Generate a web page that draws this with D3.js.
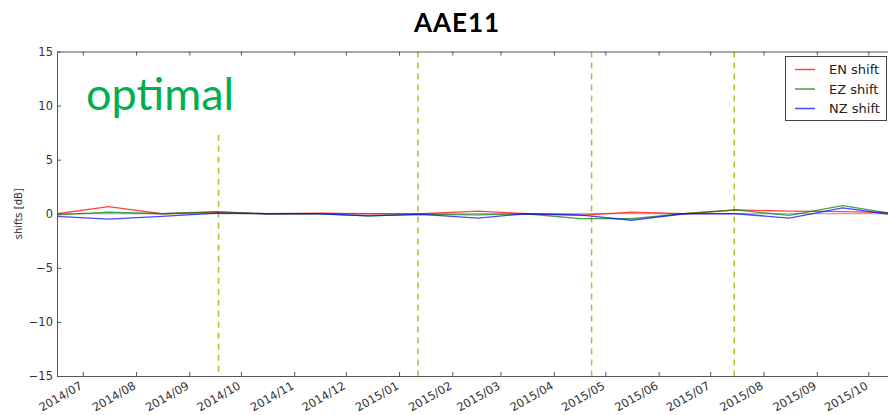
<!DOCTYPE html>
<html><head><meta charset="utf-8">
<script src="https://cdn.jsdelivr.net/npm/d3@7"></script>
<style>body{margin:0;background:#fff}svg{display:block}</style>
</head><body>
<script>
const title = "AAE11";
const annotation = "optimal";
const dates = ["2014-06-16","2014-07-16","2014-08-16","2014-09-17","2014-10-16","2014-11-16","2014-12-14","2015-01-14","2015-02-16","2015-03-16","2015-04-16","2015-05-16","2015-06-16","2015-07-16","2015-08-16","2015-09-16","2015-10-16"];
const enShift = [0.0, 0.65, 0.0, 0.15, 0.0, 0.05, 0.0, 0.0, 0.25, 0.0, -0.15, 0.15, 0.0, 0.35, 0.25, 0.2, 0.1];
const ezShift = [-0.1, 0.15, 0.0, 0.2, 0.0, 0.0, -0.2, -0.05, -0.1, 0.0, -0.45, -0.45, 0.0, 0.35, -0.15, 0.75, 0.0];
const nzShift = [-0.25, -0.5, -0.25, 0.05, 0.0, 0.0, -0.2, -0.05, -0.4, 0.0, -0.1, -0.6, 0.0, 0.0, -0.4, 0.55, -0.1];
const seriesNames = ["EN shift", "EZ shift", "NZ shift"];
const eventDates = ["2014-09-18", "2015-01-12", "2015-04-23", "2015-07-15"];
const eventTops = [7.3, 15, 15, 15];
const yTicks = [15, 10, 5, 0, -5, -10, -15];
const xTickDates = ["2014-07-01","2014-08-01","2014-09-01","2014-10-01","2014-11-01","2014-12-01","2015-01-01","2015-02-01","2015-03-01","2015-04-01","2015-05-01","2015-06-01","2015-07-01","2015-08-01","2015-09-01","2015-10-01"];
const yLabel = "shifts [dB]";

const W = 888, H = 415;
const parse = d3.utcParse("%Y-%m-%d");
const fmt = d3.utcFormat("%Y/%m");
const svg = d3.select("body").append("svg").attr("width", W).attr("height", H);

const x = d3.scaleUtc().domain([parse("2014-06-16"), parse("2015-10-20")]).range([57, 901]);
const y = d3.scaleLinear().domain([-15, 15]).range([376, 51.5]);

const colors = ["rgba(255,0,0,0.72)", "rgba(0,120,0,0.72)", "rgba(0,0,255,0.72)"];
const allSeries = [enShift, ezShift, nzShift];

svg.append("clipPath").attr("id", "clip").append("rect")
  .attr("x", x.range()[0]).attr("y", y.range()[1]).attr("width", x.range()[1] - x.range()[0]).attr("height", y.range()[0] - y.range()[1]);
const plot = svg.append("g").attr("clip-path", "url(#clip)");

plot.append("line").attr("x1", x.range()[0]).attr("x2", x.range()[1]).attr("y1", y(0)).attr("y2", y(0))
  .attr("stroke", "#999").attr("stroke-width", 1);

eventDates.forEach((d, i) => {
  plot.append("line").attr("x1", x(parse(d))).attr("x2", x(parse(d)))
    .attr("y1", y(eventTops[i])).attr("y2", y(-15))
    .attr("stroke", "#b3bf2e").attr("stroke-width", 1.5).attr("stroke-dasharray", "6,5");
});

const line = d3.line().x((d, i) => x(parse(dates[i]))).y(d => y(d));
allSeries.forEach((s, k) => {
  plot.append("path").datum(s).attr("d", line).attr("fill", "none")
    .attr("stroke", colors[k]).attr("stroke-width", 1.3);
});

const axisColor = "#555";
const gB = svg.append("g").attr("transform", `translate(0,${y(-15)})`)
  .call(d3.axisBottom(x).tickValues(xTickDates.map(parse)).tickFormat(fmt).tickSizeInner(-4).tickSizeOuter(0));
gB.select(".domain").attr("stroke", axisColor);
gB.selectAll(".tick line").attr("stroke", axisColor);
gB.selectAll(".tick text").attr("font-family", "DejaVu Sans").attr("font-size", 11.5).attr("fill", "#333")
  .attr("text-anchor", "end").attr("y", 0).attr("dy", "0.7em").attr("transform", "translate(-4,5) rotate(-30)");

const gT = svg.append("g").attr("transform", `translate(0,${y(15)})`)
  .call(d3.axisTop(x).tickValues(xTickDates.map(parse)).tickFormat("").tickSizeInner(-4).tickSizeOuter(0));
gT.select(".domain").attr("stroke", axisColor);
gT.selectAll(".tick line").attr("stroke", axisColor);

const gL = svg.append("g").attr("transform", `translate(${x.range()[0]},0)`)
  .call(d3.axisLeft(y).tickValues(yTicks).tickFormat(d => d < 0 ? "\u2212" + Math.abs(d) : d).tickSizeInner(-4).tickSizeOuter(0).tickPadding(4));
gL.select(".domain").attr("stroke", axisColor);
gL.selectAll(".tick line").attr("stroke", axisColor);
gL.selectAll(".tick text").attr("font-family", "DejaVu Sans").attr("font-size", 11.5).attr("fill", "#333");

svg.append("text").attr("transform", `translate(22,${y(0)}) rotate(-90)`).attr("text-anchor", "middle")
  .attr("font-family", "DejaVu Sans").attr("font-size", 10).attr("fill", "#333").text(yLabel);

svg.append("text").attr("x", 457).attr("y", 32).attr("text-anchor", "middle")
  .attr("font-family", "Lato").attr("font-weight", "bold").attr("font-size", 26).attr("letter-spacing", 1)
  .attr("fill", "#000").text(title);

svg.append("text").attr("x", 86).attr("y", 110).attr("font-family", "Lato").attr("font-size", 45)
  .attr("fill", "#00b050").text(annotation);

const lg = svg.append("g");
lg.append("rect").attr("x", 785.5).attr("y", 56.5).attr("width", 101).attr("height", 64)
  .attr("fill", "#fff").attr("stroke", "#444").attr("stroke-width", 1);
seriesNames.forEach((n, k) => {
  const yy = 69.5 + k * 19.5;
  lg.append("line").attr("x1", 795).attr("x2", 815).attr("y1", yy).attr("y2", yy).attr("stroke", colors[k]).attr("stroke-width", 1.5);
  lg.append("text").attr("x", 829).attr("y", yy).attr("dy", "0.35em").attr("font-family", "DejaVu Sans")
    .attr("font-size", 13).attr("fill", "#222").text(n);
});
</script>
</body></html>
